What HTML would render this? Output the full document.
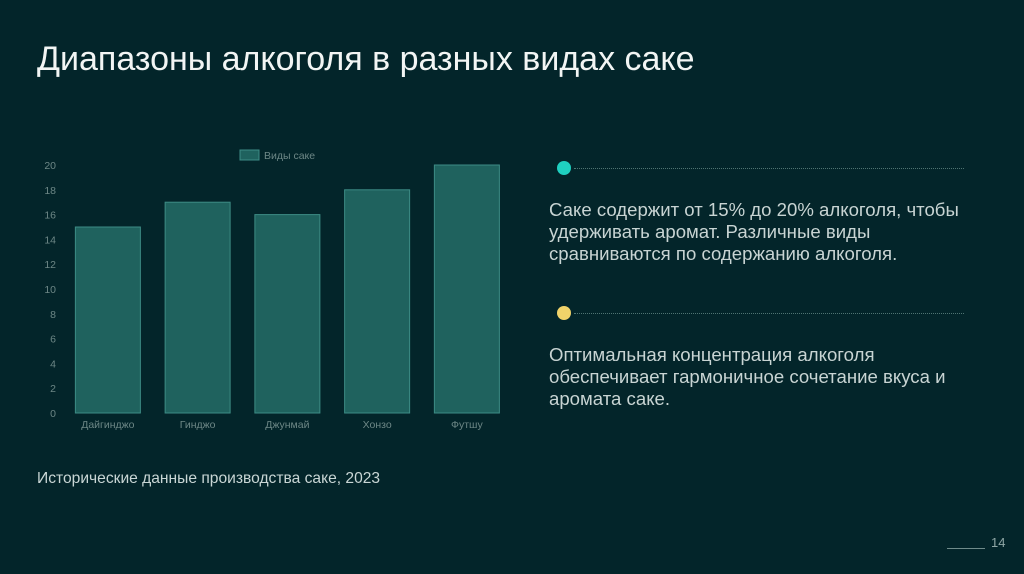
<!DOCTYPE html>
<html><head><meta charset="utf-8">
<style>
body{margin:0;width:1024px;height:574px;background:#03252a;font-family:"Liberation Sans",sans-serif;position:relative;overflow:hidden}
.t{position:absolute;color:#e6efee}
</style></head><body>
<div class="t" style="left:37px;top:40px;font-size:34px;color:#f2f5f4">Диапазоны алкоголя в разных видах саке</div>
<svg style="position:absolute;left:0;top:0" width="1024" height="574" id="ch"></svg>
<div class="t" style="left:37px;top:470px;font-size:15.6px;color:#c9d6d5">Исторические данные производства саке, 2023</div>
<div style="position:absolute;left:557px;top:161px;width:14px;height:14px;border-radius:50%;background:#1fd0c0"></div>
<div style="position:absolute;left:574px;top:168px;width:390px;border-top:1px dotted #4f7472"></div>
<div class="t" style="left:549px;top:199px;font-size:18.6px;line-height:22px;color:#c8d4d3">Саке содержит от 15% до 20% алкоголя, чтобы<br>удерживать аромат. Различные виды<br>сравниваются по содержанию алкоголя.</div>
<div style="position:absolute;left:557px;top:306px;width:14px;height:14px;border-radius:50%;background:#f0d36a"></div>
<div style="position:absolute;left:574px;top:313px;width:390px;border-top:1px dotted #4f7472"></div>
<div class="t" style="left:549px;top:344px;font-size:18.6px;line-height:22px;color:#c8d4d3">Оптимальная концентрация алкоголя<br>обеспечивает гармоничное сочетание вкуса и<br>аромата саке.</div>
<div style="position:absolute;left:947px;top:548px;width:38px;border-top:1px solid #6f8b8a"></div>
<div class="t" style="left:991px;top:535px;font-size:13px;color:#8fa6a5">14</div>
<script>
const categories=["Дайгинджо","Гинджо","Джунмай","Хонзо","Футшу"];
const values=[15,17,16,18,20];
const ticks=[0,2,4,6,8,10,12,14,16,18,20];
const svg=document.getElementById('ch');const NS='http://www.w3.org/2000/svg';
const y=v=>413-v*12.4;const L=63,step=89.75;const x=i=>L+step*i+step/2;
function mk(t,a){const e=document.createElementNS(NS,t);for(const k in a)e.setAttribute(k,a[k]);svg.appendChild(e);return e;}
ticks.forEach(v=>{const e=mk('text',{x:56,y:y(v)+4,'text-anchor':'end','font-size':10.5,fill:'#6d8786','font-family':'Liberation Sans'});e.textContent=v;

});
categories.forEach((c,i)=>{const r=mk('rect',{x:x(i)-32.5,y:y(values[i]),width:65,height:y(0)-y(values[i]),fill:'#1f625e',stroke:'#3d8c85','stroke-width':1});


const t=mk('text',{x:x(i),y:428,'text-anchor':'middle','font-size':10.5,fill:'#6d8786','font-family':'Liberation Sans'});t.textContent=c;

});
const lg=mk('rect',{x:240,y:150,width:19,height:10,fill:'#1f625e',stroke:'#3d8c85'});


const lt=mk('text',{x:264,y:159,'font-size':10.5,fill:'#6d8786','font-family':'Liberation Sans'});lt.textContent='Виды саке';


</script>
</body></html>
